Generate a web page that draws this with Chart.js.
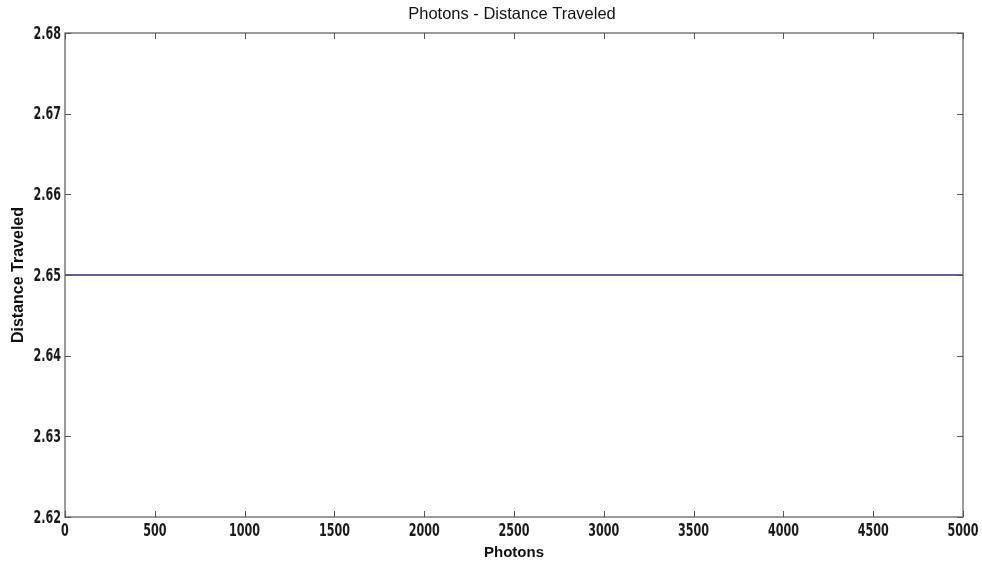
<!DOCTYPE html>
<html>
<head>
<meta charset="utf-8">
<script src="https://cdn.jsdelivr.net/npm/chart.js@4"></script>
<style>
html,body{margin:0;padding:0;background:#fff;}
#wrap{width:982px;height:564px;position:relative;}
</style>
</head>
<body>
<div id="wrap"><canvas id="c" width="982" height="564"></canvas></div>
<script>
const chartTitle = 'Photons - Distance Traveled';
const xTitle = 'Photons';
const yTitle = 'Distance Traveled';
const photons = [0, 1000, 2000, 3000, 4000, 5000];
const distance = [2.65, 2.65, 2.65, 2.65, 2.65, 2.65];
const xTicks = [0, 500, 1000, 1500, 2000, 2500, 3000, 3500, 4000, 4500, 5000];
const yTicks = [2.62, 2.63, 2.64, 2.65, 2.66, 2.67, 2.68];

const AXIS_COLOR = '#7a7a7a';
const LABEL_FONT = 'bold 18.5px "DejaVu Sans Condensed", "DejaVu Sans", sans-serif';
const SX = 0.67;

function squeezedText(ctx, text, x, y, align) {
  ctx.save();
  ctx.translate(x, y);
  ctx.scale(SX, 1);
  ctx.textAlign = align;
  ctx.fillText(text, 0, 0);
  ctx.restore();
}

const framePlugin = {
  id: 'frame',
  afterDraw(chart) {
    const ctx = chart.ctx;
    const a = chart.chartArea;
    const xs = chart.scales.x, ys = chart.scales.y;
    ctx.save();
    ctx.strokeStyle = AXIS_COLOR;
    ctx.lineWidth = 1.5;
    ctx.strokeRect(a.left, a.top, a.right - a.left, a.bottom - a.top);
    ctx.lineWidth = 1;
    ctx.strokeStyle = '#555';
    const L = 6;
    ctx.beginPath();
    xTicks.forEach(v => {
      const px = Math.round(xs.getPixelForValue(v)) + 0.5;
      ctx.moveTo(px, a.bottom); ctx.lineTo(px, a.bottom - L);
      ctx.moveTo(px, a.top); ctx.lineTo(px, a.top + L);
    });
    yTicks.forEach(v => {
      const py = Math.round(ys.getPixelForValue(v)) + 0.5;
      ctx.moveTo(a.left, py); ctx.lineTo(a.left + L, py);
      ctx.moveTo(a.right, py); ctx.lineTo(a.right - L, py);
    });
    ctx.stroke();
    // tick labels
    ctx.fillStyle = '#1a1a1a';
    ctx.font = LABEL_FONT;
    ctx.textBaseline = 'middle';
    yTicks.forEach(v => {
      squeezedText(ctx, v.toFixed(2), a.left - 4, ys.getPixelForValue(v) + 1, 'right');
    });
    xTicks.forEach(v => {
      squeezedText(ctx, String(v), xs.getPixelForValue(v), a.bottom + 14, 'center');
    });
    // title
    ctx.fillStyle = '#111';
    ctx.font = '16.5px "Liberation Sans", Arial, sans-serif';
    ctx.textAlign = 'center';
    ctx.textBaseline = 'middle';
    ctx.fillText(chartTitle, (a.left + a.right) / 2 - 2, 14);
    ctx.restore();
  }
};

new Chart(document.getElementById('c'), {
  type: 'line',
  data: {
    datasets: [{
      data: photons.map((p, i) => ({x: p, y: distance[i]})),
      borderColor: '#2b2b78',
      borderWidth: 1.6,
      pointRadius: 0,
      fill: false,
      tension: 0
    }]
  },
  options: {
    responsive: false,
    animation: false,
    layout: {padding: {left: 0, right: 19, top: 33, bottom: 0}},
    plugins: {legend: {display: false}, tooltip: {enabled: false}, title: {display: false}},
    scales: {
      x: {
        type: 'linear', min: 0, max: 5000,
        afterBuildTicks(s) { s.ticks = xTicks.map(v => ({value: v})); },
        afterFit(s) { s.height = 47; },
        grid: {display: false, drawTicks: false},
        border: {display: false},
        ticks: {display: false},
        title: {display: true, text: xTitle, color: '#111', font: {family: '"Liberation Sans", Arial, sans-serif', size: 15, weight: 'bold'}, padding: {top: 0, bottom: 2}}
      },
      y: {
        type: 'linear', min: 2.62, max: 2.68,
        afterBuildTicks(s) { s.ticks = yTicks.map(v => ({value: v})); },
        afterFit(s) { s.width = 65; },
        grid: {display: false, drawTicks: false},
        border: {display: false},
        ticks: {display: false},
        title: {display: true, text: yTitle, color: '#111', font: {family: '"Liberation Sans", Arial, sans-serif', size: 16, weight: 'bold'}, padding: {top: 9, bottom: 0}}
      }
    }
  },
  plugins: [framePlugin]
});
</script>
</body>
</html>
